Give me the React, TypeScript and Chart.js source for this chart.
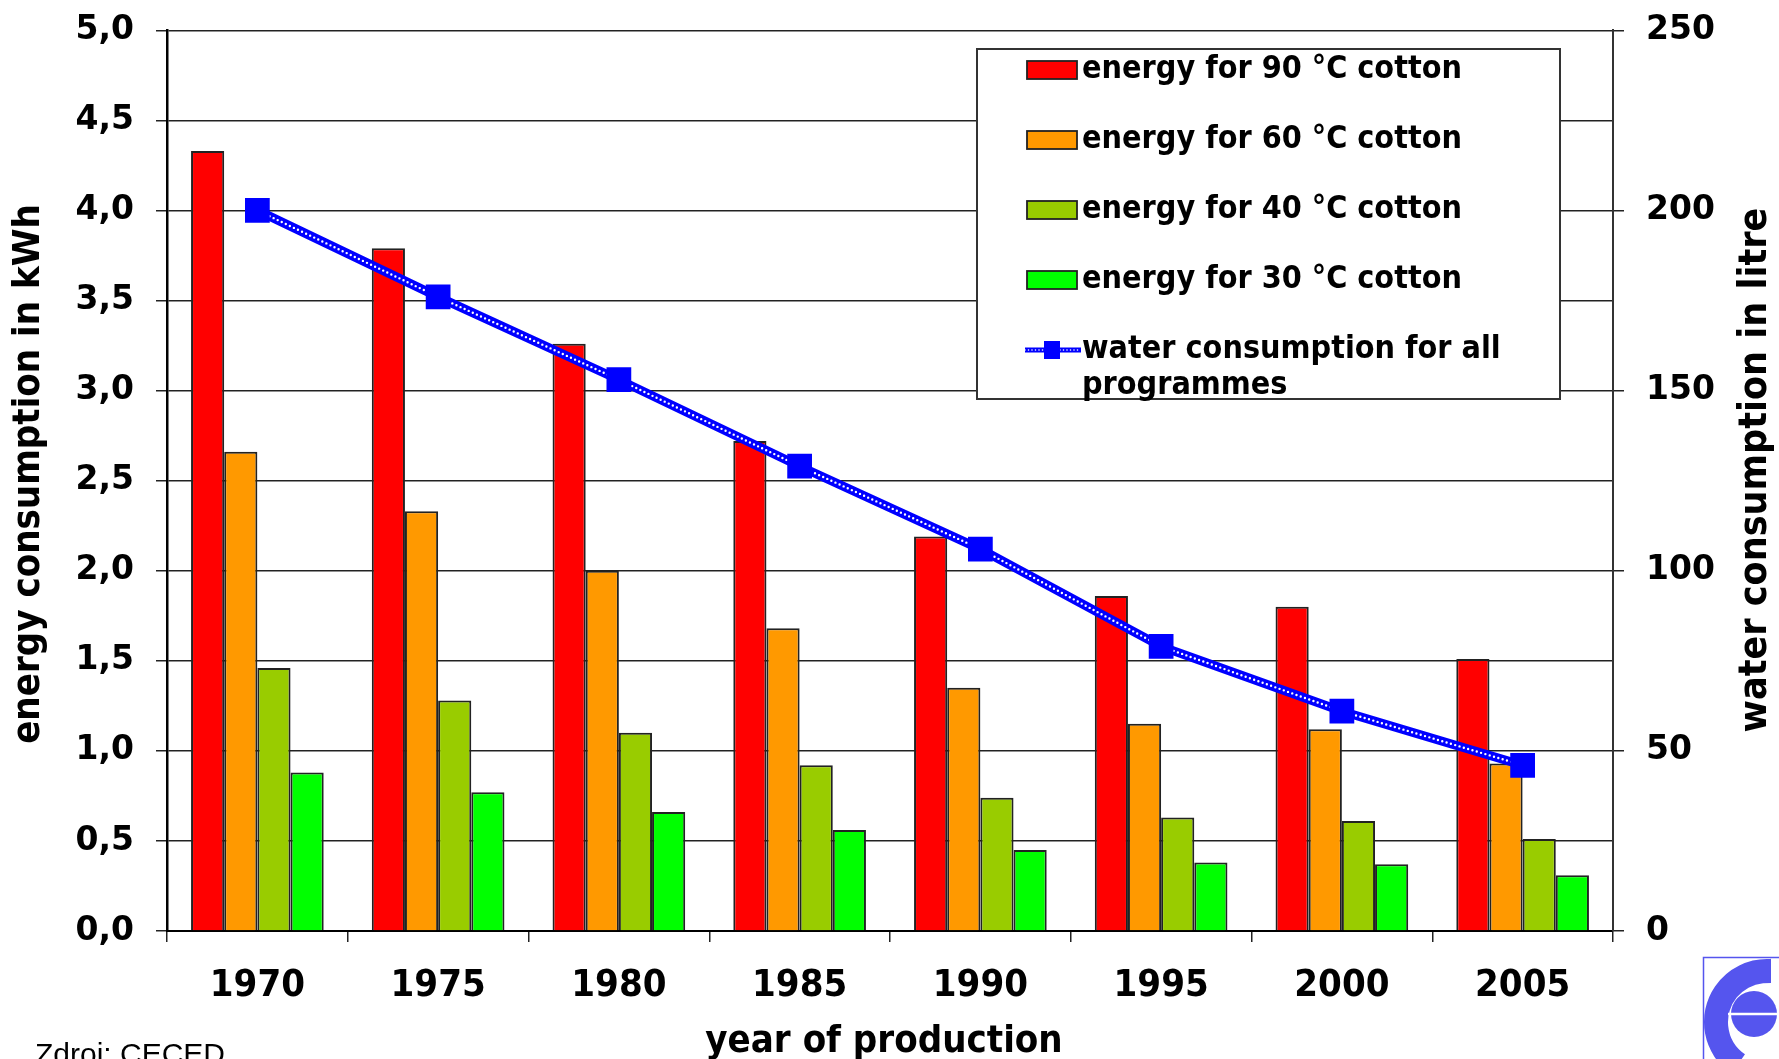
import React, { useEffect, useRef } from 'react';
import { Chart, registerables } from 'chart.js';

Chart.register(...registerables);

const W = 1779;
const H = 1059;

// ---- data ----
const categories = ['1970', '1975', '1980', '1985', '1990', '1995', '2000', '2005'];
const energy90 = [4.33, 3.79, 3.26, 2.72, 2.19, 1.86, 1.8, 1.51];
const energy60 = [2.66, 2.33, 2.0, 1.68, 1.35, 1.15, 1.12, 0.93];
const energy40 = [1.46, 1.28, 1.1, 0.92, 0.74, 0.63, 0.61, 0.51];
const energy30 = [0.88, 0.77, 0.66, 0.56, 0.45, 0.38, 0.37, 0.31];
const water = [200, 176, 153, 129, 106, 79, 61, 46];

const barLabels = [
  'energy for 90 °C cotton',
  'energy for 60 °C cotton',
  'energy for 40 °C cotton',
  'energy for 30 °C cotton',
];
const waterLabel = ['water consumption for all', 'programmes'];
const barColors = ['#FF0000', '#FF9900', '#99CC00', '#00FF00'];

const leftTitle = 'energy consumption in kWh';
const rightTitle = 'water consumption in litre';
const xTitle = 'year of production';
const sourceText = 'Zdroj: CECED';

const COND = "'DejaVu Sans Condensed', 'DejaVu Sans', sans-serif";
const WIDE = "'DejaVu Sans', Verdana, sans-serif";
const BLUE = '#0000FF';
const LOGO = '#5555EE';

const overlayPlugin = {
  id: 'overlay',
  afterDraw(chart: any) {
    const ctx: CanvasRenderingContext2D = chart.ctx;
    ctx.save();
    ctx.fillStyle = '#000';

    // axis titles
    ctx.font = `bold 38px ${COND}`;
    ctx.textAlign = 'center';
    ctx.textBaseline = 'middle';
    ctx.save();
    ctx.translate(29, 474);
    ctx.rotate(-Math.PI / 2);
    ctx.fillText(leftTitle, 0, 0);
    ctx.restore();
    ctx.save();
    ctx.translate(1756, 470);
    ctx.rotate(-Math.PI / 2);
    ctx.font = `bold 39px ${COND}`;
    ctx.fillText(rightTitle, 0, 0);
    ctx.restore();
    ctx.fillText(xTitle, 884, 1042);

    // source
    ctx.font = `30px 'Liberation Sans', Arial, sans-serif`;
    ctx.textAlign = 'left';
    ctx.textBaseline = 'alphabetic';
    ctx.fillText(sourceText, 35, 1064);

    // legend
    const lg = { x: 977, y: 49, w: 583, h: 350, sx: 1027, sw: 50, sh: 18, tx: 1082, row0: 70, gap: 70, line2: 36 };
    ctx.fillStyle = '#fff';
    ctx.fillRect(lg.x, lg.y, lg.w, lg.h);
    ctx.strokeStyle = '#333';
    ctx.lineWidth = 2;
    ctx.strokeRect(lg.x, lg.y, lg.w, lg.h);
    ctx.font = `bold 32px ${COND}`;
    ctx.textBaseline = 'middle';
    const ds = chart.data.datasets;
    for (let i = 0; i < 4; i++) {
      const cy = lg.row0 + i * lg.gap;
      ctx.fillStyle = ds[i].backgroundColor;
      ctx.fillRect(lg.sx, cy - lg.sh / 2, lg.sw, lg.sh);
      ctx.strokeStyle = '#222';
      ctx.lineWidth = 1.8;
      ctx.strokeRect(lg.sx, cy - lg.sh / 2, lg.sw, lg.sh);
      ctx.fillStyle = '#000';
      ctx.fillText(ds[i].label, lg.tx, cy);
    }
    const wy = lg.row0 + 4 * lg.gap;
    ctx.strokeStyle = BLUE;
    ctx.lineWidth = 5;
    ctx.beginPath();
    ctx.moveTo(lg.sx - 2, wy);
    ctx.lineTo(lg.sx + lg.sw + 4, wy);
    ctx.stroke();
    ctx.strokeStyle = '#fff';
    ctx.lineWidth = 1.6;
    ctx.setLineDash([0, 3.5]);
    ctx.lineCap = 'round';
    ctx.beginPath();
    ctx.moveTo(lg.sx - 2, wy);
    ctx.lineTo(lg.sx + lg.sw + 4, wy);
    ctx.stroke();
    ctx.setLineDash([]);
    ctx.lineCap = 'butt';
    ctx.fillStyle = BLUE;
    ctx.fillRect(lg.sx + lg.sw / 2 - 8, wy - 9, 16, 18);
    ctx.fillStyle = '#000';
    ctx.fillText(waterLabel[0], lg.tx, wy);
    ctx.fillText(waterLabel[1], lg.tx, wy + lg.line2);

    // logo
    ctx.strokeStyle = LOGO;
    ctx.lineWidth = 1.5;
    ctx.strokeRect(1703.5, 957.5, 120, 140);
    ctx.fillStyle = LOGO;
    const cx = 1767, cyy = 1022;
    ctx.beginPath();
    ctx.moveTo(cx + 4, 958);
    ctx.lineTo(cx + 4, 983);
    ctx.arc(cx, cyy, 39, -Math.PI / 2 - 0.1, Math.PI / 2 + 0.6, true);
    ctx.arc(cx, cyy, 63, Math.PI / 2 + 0.6, -Math.PI / 2 + 0.06, false);
    ctx.closePath();
    ctx.fill();
    ctx.beginPath();
    ctx.arc(1754, 1014, 23, 0, Math.PI * 2);
    ctx.fill();
    ctx.strokeStyle = '#fff';
    ctx.lineWidth = 2.5;
    ctx.beginPath();
    ctx.moveTo(1728, 1014);
    ctx.lineTo(1779, 1014);
    ctx.stroke();

    ctx.restore();
  },
};

export default function App() {
  const ref = useRef<HTMLCanvasElement>(null);

  useEffect(() => {
    const canvas = ref.current;
    if (!canvas) return;
    const barSeries = [energy90, energy60, energy40, energy30];
    const datasets: any[] = barSeries.map((d, i) => ({
      type: 'bar',
      label: barLabels[i],
      data: d,
      backgroundColor: barColors[i],
      borderColor: '#222',
      borderWidth: 2,
      yAxisID: 'y',
      order: 10 + i,
      barPercentage: 1,
      categoryPercentage: 0.734,
    }));
    datasets.push({
      type: 'line',
      label: waterLabel.join(' '),
      data: water,
      yAxisID: 'y1',
      borderColor: BLUE,
      borderWidth: 9,
      pointRadius: 0,
      tension: 0,
      order: 3,
    });
    datasets.push({
      type: 'line',
      label: 'water-dots',
      data: water,
      yAxisID: 'y1',
      borderColor: '#ffffff',
      borderWidth: 2.4,
      borderDash: [0, 4.5],
      borderCapStyle: 'round',
      pointRadius: 0,
      tension: 0,
      order: 2,
    });
    datasets.push({
      type: 'line',
      label: 'water-markers',
      data: water,
      yAxisID: 'y1',
      showLine: false,
      pointStyle: 'rect',
      pointRadius: 17.5,
      pointBackgroundColor: BLUE,
      pointBorderColor: BLUE,
      pointBorderWidth: 0,
      order: 1,
    });

    const chart = new Chart(canvas, {
      type: 'bar',
      data: { labels: categories, datasets },
      options: {
        animation: false,
        responsive: false,
        maintainAspectRatio: false,
        devicePixelRatio: 1,
        layout: { padding: { top: 28, left: 0, right: 0, bottom: 0 } },
        plugins: { legend: { display: false }, tooltip: { enabled: false }, title: { display: false } },
        scales: {
          x: {
            ticks: { font: { family: COND, size: 38, weight: 'bold' }, color: '#000', padding: 21 },
            grid: { offset: true, drawOnChartArea: false, drawTicks: true, tickLength: 11, color: '#222', lineWidth: 1.5 },
            border: { color: '#000', width: 2 },
            afterFit: (s: any) => { s.height = 128; },
          },
          y: {
            position: 'left',
            min: 0,
            max: 5,
            ticks: {
              stepSize: 0.5,
              callback: (v: any) => Number(v).toFixed(1).replace('.', ','),
              font: { family: WIDE, size: 33, weight: 'bold', lineHeight: 0.5 },
              color: '#000',
              padding: 22,
            },
            grid: { color: '#222', lineWidth: 1.5, tickLength: 11, drawTicks: true },
            border: { color: '#000', width: 2.5 },
            afterFit: (s: any) => { s.width = 167; },
          },
          y1: {
            position: 'right',
            min: 0,
            max: 250,
            ticks: {
              stepSize: 50,
              font: { family: WIDE, size: 33, weight: 'bold', lineHeight: 0.5 },
              color: '#000',
              padding: 22,
            },
            grid: { drawOnChartArea: false, color: '#222', lineWidth: 1.5, tickLength: 11, drawTicks: true },
            border: { color: '#333', width: 2 },
            afterFit: (s: any) => { s.width = 166; },
          },
        },
      } as any,
      plugins: [overlayPlugin],
    });
    return () => chart.destroy();
  }, []);

  return (
    <div style={{ position: 'fixed', left: 0, top: 0, width: W, height: H, background: '#fff', overflow: 'hidden' }}>
      <canvas ref={ref} width={W} height={H} style={{ display: 'block', width: W, height: H }} />
    </div>
  );
}
